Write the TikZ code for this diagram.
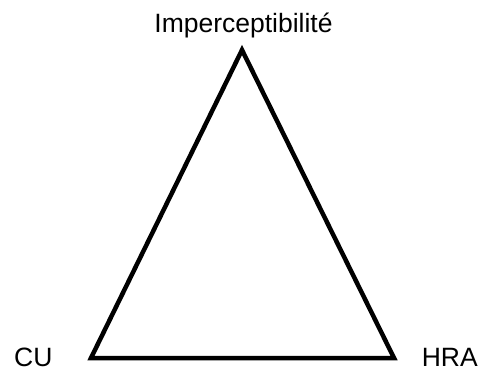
\documentclass[tikz,border=0pt]{standalone}
\usepackage{fontspec}
\setmainfont{Liberation Sans}
\usetikzlibrary{positioning}

\tikzset{
  cornerlabel/.style={anchor=base, inner sep=0pt, font=\fontsize{26.5}{30}\selectfont},
  edge/.style={line width=4.5pt, line join=miter, black}
}

\begin{document}
\begin{tikzpicture}[x=1pt, y=-1pt]
  \useasboundingbox (0,0) rectangle (479,371);
  % corners of the triangle
  \coordinate (top) at (242,50);
  \coordinate (left) at (91,358);
  \coordinate (right) at (394,358);
  \draw[edge] (top) -- (left) -- (right) -- cycle;

  % labels
  \node[cornerlabel] (imp) at (243.5,33) {Imperceptibilité};
  \node[cornerlabel, anchor=base west] (cu) at (14,366) {CU};
  \node[cornerlabel, anchor=base east] (hra) at (478,366) {HRA};
\end{tikzpicture}
\end{document}
